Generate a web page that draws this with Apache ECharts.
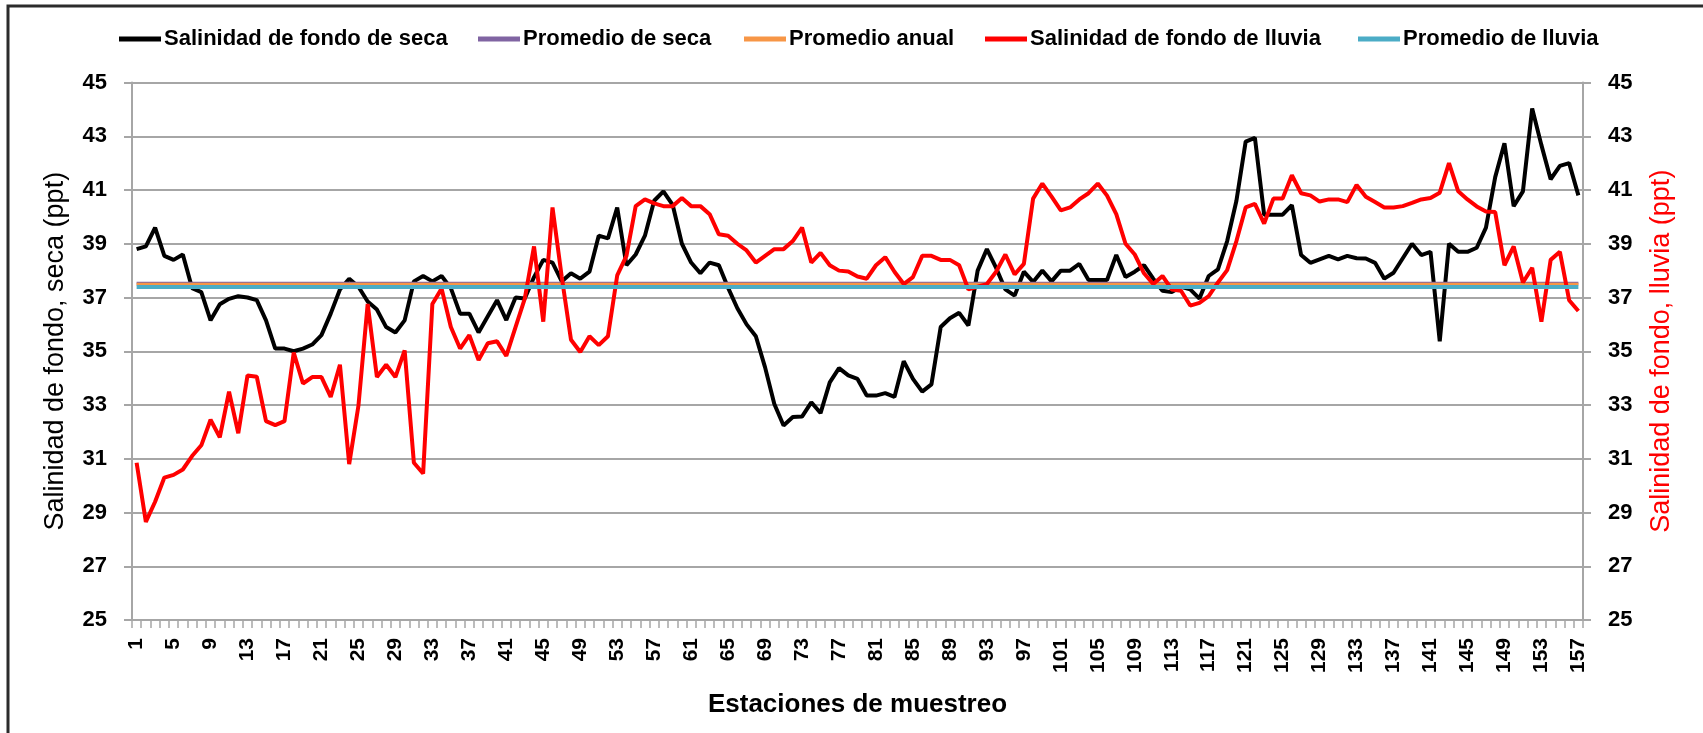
<!DOCTYPE html>
<html>
<head>
<meta charset="utf-8">
<script src="https://cdn.jsdelivr.net/npm/echarts@6/dist/echarts.min.js"></script>
<style>
  html, body { margin: 0; padding: 0; background: #fff; }
  #chart { width: 1703px; height: 733px; }
</style>
</head>
<body>
<div id="chart"></div>
<script>
// Estaciones de muestreo 1..157
const estaciones = Array.from({ length: 157 }, (_, i) => String(i + 1));

// Salinidad de fondo, temporada seca (ppt)
const salinidadSeca = [
  38.8, 38.9, 39.6, 38.55, 38.4, 38.6, 37.35, 37.2, 36.15, 36.75,
  36.95, 37.05, 37.0, 36.9, 36.15, 35.1, 35.1, 35.0, 35.1, 35.25,
  35.6, 36.4, 37.3, 37.7, 37.4, 36.85, 36.55, 35.9, 35.7, 36.15,
  37.6, 37.8, 37.6, 37.8, 37.35, 36.4, 36.4, 35.7, 36.3, 36.9,
  36.16, 37.0, 36.96, 37.76, 38.4, 38.3, 37.6, 37.9, 37.7, 37.96,
  39.3, 39.2, 40.35, 38.2, 38.6, 39.3, 40.6, 40.95, 40.45, 39.0,
  38.3, 37.9, 38.3, 38.2, 37.36, 36.6, 36.0, 35.56, 34.4, 33.04,
  32.24, 32.55, 32.57, 33.1, 32.7, 33.84, 34.37, 34.1, 33.97, 33.35,
  33.35, 33.44, 33.3, 34.63, 33.97, 33.5, 33.77, 35.9, 36.23, 36.43,
  35.96, 38.0, 38.8, 38.1, 37.3, 37.07, 37.96, 37.58, 38.0, 37.6,
  38.0, 38.0, 38.25, 37.65, 37.65, 37.65, 38.58, 37.76, 37.96, 38.2,
  37.7, 37.25, 37.2, 37.4, 37.3, 36.96, 37.8, 38.05, 39.1, 40.6,
  42.8, 42.94, 40.08, 40.08, 40.08, 40.44, 38.58, 38.29, 38.42, 38.55,
  38.42, 38.55, 38.46, 38.45, 38.29, 37.7, 37.92, 38.46, 39.0, 38.58,
  38.7, 35.37, 39.0, 38.7, 38.7, 38.85, 39.6, 41.48, 42.74, 40.4,
  40.95, 44.03, 42.67, 41.4, 41.9, 42.0, 40.8
];

// Salinidad de fondo, temporada de lluvia (ppt)
const salinidadLluvia = [
  30.85, 28.65, 29.4, 30.3, 30.4, 30.6, 31.1, 31.5, 32.45, 31.8,
  33.5, 31.95, 34.1, 34.05, 32.4, 32.25, 32.4, 34.95, 33.8, 34.04,
  34.04, 33.3, 34.5, 30.8, 32.97, 36.76, 34.04, 34.5, 34.04, 35.03,
  30.85, 30.45, 36.76, 37.33, 35.9, 35.1, 35.6, 34.67, 35.3, 35.37,
  34.83, 35.9, 36.96, 38.9, 36.1, 40.35, 37.76, 35.43, 34.97, 35.56,
  35.23, 35.56, 37.82, 38.55, 40.4, 40.65, 40.5, 40.4, 40.4, 40.7,
  40.4, 40.4, 40.1, 39.35, 39.3, 39.0, 38.75, 38.3, 38.55, 38.8,
  38.8, 39.1, 39.6, 38.3, 38.66, 38.2, 38.0, 37.97, 37.78, 37.7,
  38.2, 38.5, 37.96, 37.5, 37.76, 38.55, 38.55, 38.4, 38.4, 38.2,
  37.3, 37.4, 37.5, 37.96, 38.6, 37.86, 38.25, 40.68, 41.24, 40.75,
  40.24, 40.35, 40.65, 40.88, 41.24, 40.79, 40.1, 39.0, 38.6, 37.9,
  37.5, 37.8, 37.3, 37.25, 36.7, 36.8, 37.05, 37.56, 38.02, 39.1,
  40.35, 40.48, 39.75, 40.68, 40.68, 41.55, 40.88, 40.8, 40.57, 40.65,
  40.65, 40.55, 41.19, 40.75, 40.55, 40.35, 40.35, 40.4, 40.52, 40.65,
  40.7, 40.9, 42.0, 40.95, 40.65, 40.39, 40.2, 40.18, 38.2, 38.9,
  37.56, 38.1, 36.1, 38.4, 38.7, 36.9, 36.5
];

// Promedios (ppt)
const promedioSeca = 37.53;
const promedioAnual = 37.49;
const promedioLluvia = 37.39;

// Eje de salinidad
const ejeMin = 25;
const ejeMax = 45;
const ejeIntervalo = 2;

const FONT = '"Liberation Sans", Arial, sans-serif';
const GRIS = '#a6a6a6';

const nombres = [
  'Salinidad de fondo de seca',
  'Promedio de seca',
  'Promedio anual',
  'Salinidad de fondo de lluvia',
  'Promedio de lluvia'
];
const colores = ['#000000', '#8064a2', '#f79646', '#ff0000', '#4bacc6'];
const leyendaIzq = [119, 478, 744, 985, 1358];

const primera = estaciones[0];
const ultima = estaciones[estaciones.length - 1];

function lineaPromedio(nombre, valor, color, grosor) {
  return {
    name: nombre,
    type: 'line',
    data: [[primera, valor], [ultima, valor]],
    symbol: 'none',
    lineStyle: { color: color, width: grosor },
    itemStyle: { color: color },
    animation: false,
    silent: true
  };
}

function ejeY(posicion, nombre, colorNombre, hueco) {
  return {
    type: 'value',
    position: posicion,
    min: ejeMin,
    max: ejeMax,
    interval: ejeIntervalo,
    name: nombre,
    nameLocation: 'middle',
    nameRotate: 90,
    nameGap: hueco,
    nameTextStyle: { fontFamily: FONT, fontSize: 27, color: colorNombre },
    axisLine: { show: true, lineStyle: { color: GRIS, width: 2 } },
    axisTick: { show: true, length: 8, lineStyle: { color: GRIS, width: 2 } },
    axisLabel: { margin: 25, fontFamily: FONT, fontSize: 22, fontWeight: 'bold', color: '#000' },
    splitLine: { show: posicion === 'left', lineStyle: { color: GRIS, width: 2 } }
  };
}

const chart = echarts.init(document.getElementById('chart'), null, { renderer: 'canvas' });

chart.setOption({
  animation: false,
  backgroundColor: '#ffffff',
  graphic: [{
    type: 'rect',
    shape: { x: 8, y: 6, width: 1720, height: 760 },
    style: { fill: 'none', stroke: '#2b2b2b', lineWidth: 3 },
    silent: true,
    z: 100
  }],
  legend: nombres.map((n, i) => ({
    data: [n],
    left: leyendaIzq[i],
    top: 28,
    padding: 0,
    itemWidth: 42,
    itemHeight: 5,
    itemGap: 0,
    icon: 'rect',
    selectedMode: false,
    textStyle: { fontFamily: FONT, fontSize: 22, fontWeight: 'bold', color: '#000', padding: [0, 0, 0, -2] }
  })),
  grid: { left: 132, right: 120, top: 82.5, bottom: 113, containLabel: false },
  xAxis: {
    type: 'category',
    data: estaciones,
    boundaryGap: true,
    name: 'Estaciones de muestreo',
    nameLocation: 'middle',
    nameGap: 72,
    nameTextStyle: { fontFamily: FONT, fontSize: 26, fontWeight: 'bold', color: '#000' },
    axisLine: { lineStyle: { color: GRIS, width: 2 } },
    axisTick: { show: true, interval: 0, alignWithLabel: false, length: 8, lineStyle: { color: GRIS, width: 1.5 } },
    axisLabel: {
      interval: 3,
      rotate: 90,
      margin: 18,
      fontFamily: FONT,
      fontSize: 21,
      fontWeight: 'bold',
      color: '#000'
    },
    splitLine: { show: false }
  },
  yAxis: [
    ejeY('left', 'Salinidad de fondo, seca (ppt)', '#000', 63),
    ejeY('right', 'Salinidad de fondo, lluvia (ppt)', '#ff0000', 65)
  ],
  series: [
    {
      name: nombres[0],
      type: 'line',
      data: salinidadSeca,
      yAxisIndex: 0,
      symbol: 'none',
      lineStyle: { color: colores[0], width: 4 },
      itemStyle: { color: colores[0] }
    },
    lineaPromedio(nombres[1], promedioSeca, colores[1], 3),
    lineaPromedio(nombres[2], promedioAnual, colores[2], 3),
    {
      name: nombres[3],
      type: 'line',
      data: salinidadLluvia,
      yAxisIndex: 1,
      symbol: 'none',
      lineStyle: { color: colores[3], width: 4 },
      itemStyle: { color: colores[3] }
    },
    lineaPromedio(nombres[4], promedioLluvia, colores[4], 4)
  ]
});
</script>
</body>
</html>
